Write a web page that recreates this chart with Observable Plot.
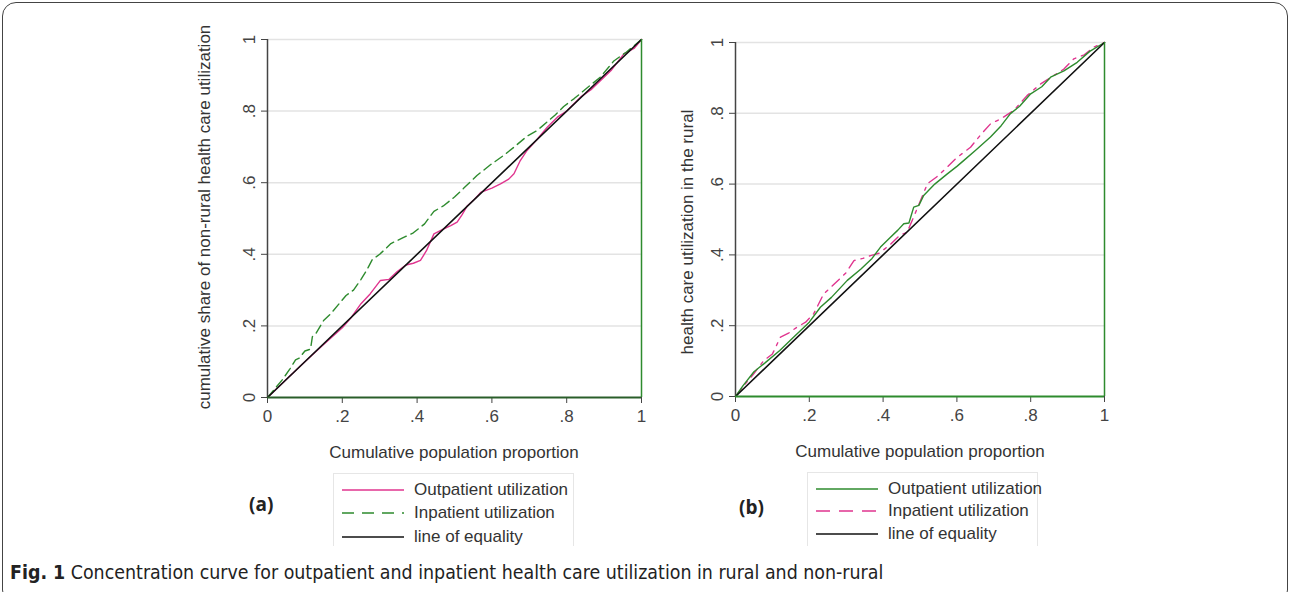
<!DOCTYPE html>
<html><head><meta charset="utf-8">
<script src="https://cdn.jsdelivr.net/npm/d3@7"></script>
<script src="https://cdn.jsdelivr.net/npm/@observablehq/plot@0.6"></script>
<style>
body{margin:0;background:#fff;width:1290px;height:592px;overflow:hidden;position:relative;font-family:"Liberation Sans",Arial,sans-serif;}
.abs{position:absolute;}
#frame{left:2px;top:2px;width:1284px;height:600px;border:1.5px solid #444;border-radius:14px;}
.ttl{position:absolute;font-size:17px;color:#333;white-space:nowrap;}
.rot{transform:translate(-50%,-50%) rotate(-90deg);}
.ctr{transform:translate(-50%,-50%);}
.leg{position:absolute;border:1px solid #e6e6e6;border-bottom:none;}
.legrow{position:absolute;left:8px;font-size:17px;color:#333;white-space:nowrap;display:flex;align-items:center;height:20px;}
.legrow svg{margin-right:10px;}
.tag{position:absolute;font-family:"Open Sans",sans-serif;font-weight:bold;font-size:19px;color:#222;}
#cap{left:10px;top:561px;font-family:"Liberation Sans Narrow","DejaVu Sans Condensed",sans-serif;font-size:19.4px;color:#222;white-space:nowrap;}
</style></head>
<body>
<div id="frame" class="abs"></div>
<div id="pa" class="abs" style="left:200px;top:20px"></div>
<div id="pb" class="abs" style="left:690px;top:20px"></div>
<div class="ttl rot" style="left:205px;top:217px">cumulative share of non-rural health care utilization</div>
<div class="ttl ctr" style="left:454px;top:453px">Cumulative population proportion</div>
<div class="ttl rot" style="left:688px;top:232px">health care utilization in the rural</div>
<div class="ttl ctr" style="left:920px;top:452px">Cumulative population proportion</div>
<div class="tag" style="left:249px;top:491px">(a)</div>
<div class="tag" style="left:739px;top:494px">(b)</div>
<div id="lega" class="leg" style="left:333px;top:473px;width:239px;height:72px"></div>
<div id="legb" class="leg" style="left:807px;top:472px;width:229px;height:73px"></div>
<div id="cap" class="abs"><b>Fig. 1</b> Concentration curve for outpatient and inpatient health care utilization in rural and non-rural</div>
<script>
// ---- data ----
const tickValues = [0, 0.2, 0.4, 0.6, 0.8, 1];
const tickLabels = ["0", ".2", ".4", ".6", ".8", "1"];
const equalityX = [0, 1];
const equalityY = [0, 1];

// Panel (a): non-rural
const aOutpatientX = [0,0.05,0.1,0.15,0.2,0.225,0.25,0.275,0.302,0.325,0.347,0.37,0.39,0.409,0.425,0.445,0.47,0.49,0.507,0.52,0.534,0.55,0.57,0.6,0.623,0.645,0.659,0.675,0.694,0.72,0.748,0.775,0.8,0.837,0.865,0.89,0.92,0.953,0.98,1];
const aOutpatientY = [0,0.05,0.1,0.148,0.195,0.225,0.262,0.29,0.327,0.33,0.352,0.37,0.375,0.383,0.41,0.457,0.47,0.48,0.49,0.51,0.535,0.55,0.573,0.585,0.597,0.61,0.625,0.66,0.69,0.72,0.755,0.783,0.8,0.839,0.86,0.885,0.915,0.96,0.975,1];
const aInpatientX = [0,0.02,0.04,0.06,0.075,0.085,0.1,0.115,0.12,0.13,0.15,0.17,0.19,0.21,0.23,0.25,0.265,0.28,0.3,0.33,0.36,0.39,0.42,0.445,0.47,0.5,0.525,0.56,0.596,0.63,0.66,0.694,0.72,0.748,0.77,0.792,0.82,0.855,0.89,0.926,0.96,1];
const aInpatientY = [0,0.025,0.05,0.08,0.105,0.11,0.13,0.135,0.17,0.18,0.215,0.235,0.26,0.285,0.3,0.33,0.355,0.385,0.4,0.43,0.445,0.46,0.485,0.52,0.535,0.56,0.585,0.62,0.65,0.675,0.7,0.73,0.745,0.77,0.79,0.813,0.835,0.865,0.895,0.94,0.965,1];

// Panel (b): rural
const bOutpatientX = [0,0.02,0.05,0.08,0.12,0.16,0.2,0.23,0.26,0.303,0.34,0.37,0.393,0.42,0.44,0.456,0.47,0.483,0.497,0.51,0.54,0.574,0.6,0.619,0.65,0.691,0.72,0.745,0.77,0.8,0.83,0.854,0.89,0.926,0.96,1];
const bOutpatientY = [0,0.03,0.07,0.095,0.13,0.17,0.21,0.252,0.28,0.328,0.36,0.39,0.422,0.45,0.47,0.488,0.49,0.535,0.54,0.568,0.6,0.629,0.65,0.667,0.695,0.733,0.765,0.799,0.82,0.855,0.875,0.902,0.92,0.944,0.975,1];
const bInpatientX = [0,0.03,0.05,0.077,0.1,0.122,0.145,0.167,0.19,0.212,0.239,0.26,0.28,0.3,0.321,0.345,0.366,0.39,0.42,0.445,0.465,0.48,0.5,0.52,0.545,0.574,0.6,0.637,0.665,0.691,0.72,0.754,0.79,0.827,0.86,0.89,0.917,0.945,0.971,1];
const bInpatientY = [0,0.04,0.065,0.102,0.12,0.168,0.18,0.196,0.21,0.234,0.29,0.31,0.33,0.35,0.384,0.39,0.398,0.405,0.43,0.455,0.464,0.5,0.55,0.601,0.62,0.648,0.675,0.704,0.74,0.77,0.785,0.808,0.85,0.883,0.905,0.925,0.954,0.965,0.987,1];

const PINK = "#e0358f", GREEN = "#2e8b2e", BLACK = "#111";
const fmt = d => tickLabels[tickValues.findIndex(t => Math.abs(t - d) < 1e-9)];
const pts = (xs, ys) => xs.map((x, i) => ({x, y: ys[i]}));

function panel(opts, series) {
  return Plot.plot({
    width: opts.width, height: 440,
    marginLeft: opts.ml, marginRight: opts.mr, marginTop: opts.mt, marginBottom: opts.mb,
    x: {domain: [0, 1]}, y: {domain: [0, 1]},
    style: {fontFamily: "Liberation Sans, Arial, sans-serif", fontSize: "17px", color: "#444", background: "transparent"},
    marks: [
      Plot.gridY(tickValues.slice(1), {stroke: "#e3e3e3", strokeOpacity: 1, strokeWidth: 1.5}),
      Plot.axisY({ticks: tickValues, tickFormat: fmt, tickRotate: -90, tickSize: 6, tickPadding: 7, label: null, stroke: "#444"}),
      Plot.axisX({ticks: tickValues, tickFormat: fmt, tickSize: 6, tickPadding: 6, label: null, stroke: "#444"}),
      Plot.ruleX([0], {stroke: "#444", strokeWidth: 1.5}),
      ...series.map(s => Plot.line(pts(s.x, s.y), {x: "x", y: "y", stroke: s.color, strokeWidth: 1.4, strokeDasharray: s.dash})),
      Plot.line(pts(equalityX, equalityY), {x: "x", y: "y", stroke: BLACK, strokeWidth: 1.6}),
      Plot.ruleX([1], {stroke: GREEN, strokeWidth: 1.5}),
      Plot.ruleY([0], {stroke: opts.baseColor, strokeWidth: 2})
    ]
  });
}

document.getElementById("pa").append(panel({width: 460, ml: 67, mr: 19, mt: 19, mb: 63, baseColor: "#2a5e2a"}, [
  {x: aOutpatientX, y: aOutpatientY, color: PINK},
  {x: aInpatientX, y: aInpatientY, color: GREEN, dash: "9,5"}
]));
document.getElementById("pb").append(panel({width: 440, ml: 45, mr: 26, mt: 22, mb: 64, baseColor: GREEN}, [
  {x: bInpatientX, y: bInpatientY, color: PINK, dash: "10,6,3,6"},
  {x: bOutpatientX, y: bOutpatientY, color: GREEN}
]));

// legends
const legendA = [["Outpatient utilization", PINK, null], ["Inpatient utilization", GREEN, "12,8"], ["line of equality", BLACK, null]];
const legendB = [["Outpatient utilization", GREEN, null], ["Inpatient utilization", PINK, "14,9"], ["line of equality", BLACK, null]];
function legend(id, items, rowTops) {
  const box = document.getElementById(id);
  items.forEach(([label, color, dash], i) => {
    const row = document.createElement("div");
    row.className = "legrow";
    row.style.top = rowTops[i] + "px";
    row.innerHTML = `<svg width="62" height="10"><line x1="0" y1="5" x2="62" y2="5" stroke="${color}" stroke-width="1.5" ${dash ? `stroke-dasharray="${dash}"` : ""}/></svg><span>${label}</span>`;
    box.append(row);
  });
}
legend("lega", legendA, [6, 29, 53]);
legend("legb", legendB, [6, 28, 51]);
</script>
</body></html>
